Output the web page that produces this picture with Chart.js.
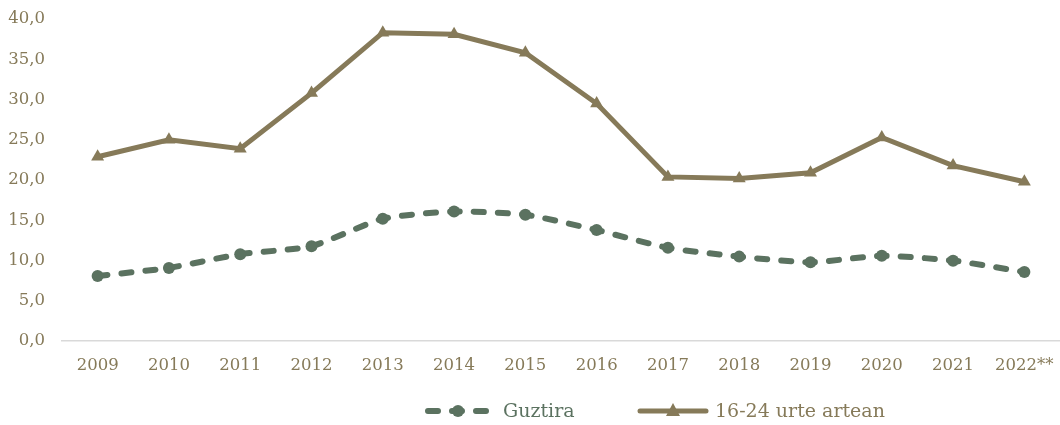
<!DOCTYPE html>
<html><head><meta charset="utf-8">
<script src="https://cdn.jsdelivr.net/npm/chart.js@4"></script>
<style>html,body{margin:0;padding:0;background:#fff}#wrap{width:1060px;height:425px}</style>
</head><body><div id="wrap"><canvas id="c"></canvas></div>
<script>
const categories = ['2009','2010','2011','2012','2013','2014','2015','2016','2017','2018','2019','2020','2021','2022**'];
const guztira = [8.1, 9.1, 10.8, 11.8, 15.2, 16.1, 15.7, 13.8, 11.6, 10.5, 9.8, 10.6, 10.0, 8.6];
const gazteak = [22.9, 25.0, 23.9, 30.8, 38.3, 38.1, 35.8, 29.5, 20.4, 20.2, 20.9, 25.3, 21.8, 19.8];
const seriesNames = ['Guztira', '16-24 urte artean'];

const GREEN = '#5b7260';
const BROWN = '#867a59';
const FONT = "'DejaVu Serif', serif";

const customLegend = {
  id: 'customLegend',
  afterDraw(chart) {
    const ctx = chart.ctx;
    const y = 411;
    ctx.save();
    ctx.font = "19px " + FONT;
    ctx.textBaseline = 'middle';
    ctx.strokeStyle = GREEN; ctx.fillStyle = GREEN; ctx.lineWidth = 6; ctx.lineCap = 'round';
    ctx.setLineDash([10, 14]);
    ctx.beginPath(); ctx.moveTo(428, y); ctx.lineTo(488, y); ctx.stroke();
    ctx.setLineDash([]);
    ctx.beginPath(); ctx.arc(458, y, 6, 0, Math.PI * 2); ctx.fill();
    ctx.fillText(seriesNames[0], 503, y + 1);
    ctx.strokeStyle = BROWN; ctx.fillStyle = BROWN; ctx.lineWidth = 5; ctx.lineCap = 'round';
    ctx.beginPath(); ctx.moveTo(640, y); ctx.lineTo(706, y); ctx.stroke();
    ctx.beginPath(); ctx.moveTo(673, y - 8); ctx.lineTo(680, y + 5); ctx.lineTo(666, y + 5); ctx.closePath(); ctx.fill();
    ctx.fillText(seriesNames[1], 715, y + 1);
    ctx.restore();
  }
};

const chart = new Chart(document.getElementById('c'), {
  type: 'line',
  data: {
    labels: categories,
    datasets: [
      { label: seriesNames[0], data: guztira, borderColor: GREEN, backgroundColor: GREEN,
        borderWidth: 6, borderDash: [10, 14], borderCapStyle: 'round', tension: 0.2,
        pointStyle: 'circle', pointRadius: 6, pointHoverRadius: 6, pointBorderWidth: 0 },
      { label: seriesNames[1], data: gazteak, borderColor: BROWN, backgroundColor: BROWN,
        borderWidth: 5, tension: 0, pointStyle: 'triangle', pointRadius: 7.5, pointHoverRadius: 7.5, pointBorderWidth: 0 }
    ]
  },
  options: {
    responsive: true, maintainAspectRatio: false, animation: false,
    layout: { autoPadding: false, padding: { top: 19, right: 0, left: 0, bottom: 42 } },
    scales: {
      x: {
        offset: true,
        grid: { display: false },
        border: { display: true, color: '#d9d9d9', width: 1.5 },
        afterFit: s => { s.paddingRight = 0; s.paddingLeft = 0; },
        ticks: { color: BROWN, font: { family: FONT, size: 16.5 }, padding: 7, maxRotation: 0 }
      },
      y: {
        min: 0, max: 40,
        grid: { display: false },
        border: { display: false },
        afterFit: s => { s.width = 62; s.paddingTop = 0; },
        ticks: { stepSize: 5, color: BROWN, font: { family: FONT, size: 16.5 }, padding: 9,
          callback: v => v.toFixed(1).replace('.', ',') }
      }
    },
    plugins: {
      tooltip: { enabled: false },
      legend: { display: false }
    }
  },
  plugins: [customLegend]
});
</script></body></html>
